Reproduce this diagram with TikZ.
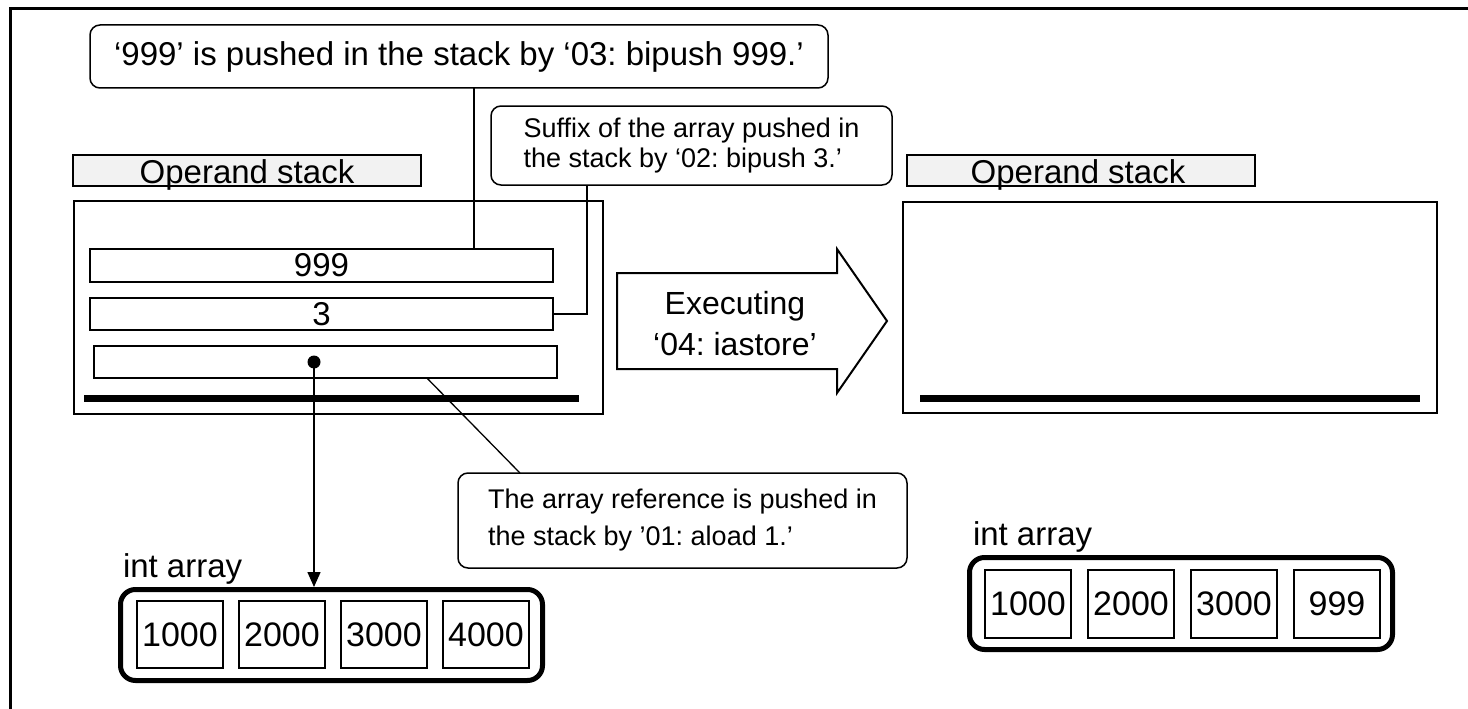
\documentclass[tikz,border=0pt]{standalone}
\usepackage{fontspec}
\setmainfont{Liberation Sans}
\usetikzlibrary{arrows.meta,calc}
\frenchspacing
\begin{document}
\begin{tikzpicture}[x=1pt,y=-1pt,
  every node/.style={inner sep=0pt, outer sep=0pt},
  bigtxt/.style={font=\fontsize{33}{39}\selectfont},
  numtxt/.style={font=\fontsize{34}{40}\selectfont},
  smalltxt/.style={font=\fontsize{27}{#1}\selectfont},
  callout/.style={draw, line width=1.5pt, rounded corners=10pt, fill=white},
  stacklabel/.style={draw, line width=2pt, fill=black!5, minimum width=348pt, minimum height=31pt},
  stackframe/.style={draw, line width=2pt},
  slot/.style={draw, line width=2pt, minimum width=463pt, bigtxt},
  floorbar/.style={fill=black, minimum height=7pt},
  arraybox/.style={draw, line width=5pt, rounded corners=15pt},
  cellbox/.style={draw, line width=1.5pt, minimum width=86pt, numtxt},
  leader/.style={line width=1.3pt},
  pointer/.style={line width=1.5pt, -{Triangle[length=15pt,width=13pt]}}
]
\useasboundingbox (0,0) rectangle (1468,709);

% outer frame (top and left edges)
\draw[line width=3pt] (10,709) -- (10,9) -- (1468,9);

% ---------- before: operand stack ----------
\node[stacklabel] (labL) at (247,170.5) {};
\node[bigtxt, anchor=base] (labLtxt) at (247,183) {Operand stack};
\node[stackframe, minimum width=529pt, minimum height=213pt] (stkL) at (338.5,307.5) {};
\node[slot, minimum height=33pt] (v999) at (321.5,265.5) {999};
\node[slot, minimum height=32pt] (v3) at (321.5,314) {3};
\node[slot, minimum height=32pt] (vref) at (325.5,362) {};
\node[floorbar, minimum width=495pt] (barL) at (331.5,398.5) {};
\node[circle, fill=black, minimum size=13pt] (dot) at (314,362) {};

% ---------- callouts ----------
\node[callout, minimum width=738pt, minimum height=63pt, bigtxt] (c1) at (459,56.5)
  {‘999’ is pushed in the stack by ‘03: bipush 999.’};
\node[callout, minimum width=401pt, minimum height=79pt, smalltxt=30, align=left] (c2) at (691.5,145.5)
  {Suffix of the array pushed in\\the stack by ‘02: bipush 3.’};
\node[callout, minimum width=449pt, minimum height=95pt, smalltxt=37, align=left] (c3) at (682.5,520.5)
  {The array reference is pushed in\\the stack by ’01: aload 1.’};

\draw[leader] ([xshift=15pt]c1.south) -- ([xshift=15pt]c1.south |- v999.north);
\draw[leader] ([xshift=-104.5pt]c2.south) |- (v3.east);
\draw[leader] ($(vref.south west)!0.719!(vref.south east)$) -- ($(c3.north west)!0.138!(c3.north east)$);

% ---------- execution arrow ----------
\draw[line width=2pt, line join=miter]
  (617,273) -- (837,273) -- (837,249) -- (887,321) -- (837,393) -- (837,369) -- (617,369) -- cycle;
\node[font=\fontsize{32}{41}\selectfont, align=center] (exec) at (735,324)
  {Executing\\‘04: iastore’};

% ---------- after: operand stack ----------
\node[stacklabel] (labR) at (1081,170.5) {};
\node[bigtxt, anchor=base] (labRtxt) at (1078,183) {Operand stack};
\node[stackframe, minimum width=534pt, minimum height=211pt] (stkR) at (1170,307.5) {};
\node[floorbar, minimum width=500pt] (barR) at (1170,398.5) {};

% ---------- int array before ----------
\node[bigtxt, anchor=base west] (arrLtxt) at (123,577) {int array};
\node[arraybox, minimum width=422pt, minimum height=91pt] (arrL) at (331.5,635) {};
\node[cellbox, minimum height=67pt] (l1) at (180,634.5) {1000};
\node[cellbox, minimum height=67pt] (l2) at (282,634.5) {2000};
\node[cellbox, minimum height=67pt] (l3) at (384,634.5) {3000};
\node[cellbox, minimum height=67pt] (l4) at (486,634.5) {4000};
\draw[pointer] (dot.center) -- ([yshift=2.5pt]dot |- arrL.north);

% ---------- int array after ----------
\node[bigtxt, anchor=base west] (arrRtxt) at (973,545) {int array};
\node[arraybox, minimum width=423pt, minimum height=92pt] (arrR) at (1181,603.5) {};
\node[cellbox, minimum height=68pt] (r1) at (1028,604) {1000};
\node[cellbox, minimum height=68pt] (r2) at (1131,604) {2000};
\node[cellbox, minimum height=68pt] (r3) at (1234,604) {3000};
\node[cellbox, minimum height=68pt] (r4) at (1337,604) {999};
\end{tikzpicture}
\end{document}
